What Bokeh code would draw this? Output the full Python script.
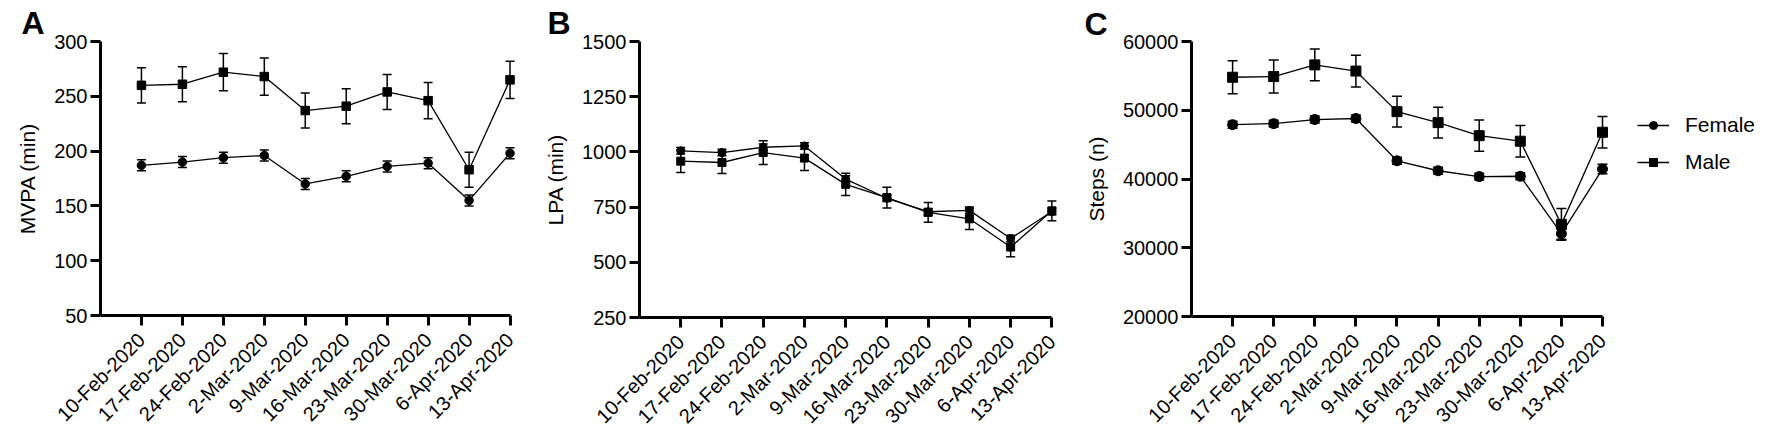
import math
from bokeh.plotting import figure
from bokeh.layouts import row
from bokeh.models import (Range1d, FixedTicker, Whisker, TeeHead, ColumnDataSource,
                          Legend, LegendItem, NumeralTickFormatter)
from bokeh.embed import file_html
from bokeh.resources import INLINE

FONT = "Liberation Sans"

dates = ["10-Feb-2020", "17-Feb-2020", "24-Feb-2020", "2-Mar-2020", "9-Mar-2020",
         "16-Mar-2020", "23-Mar-2020", "30-Mar-2020", "6-Apr-2020", "13-Apr-2020"]

mvpa_female = [187, 190, 194, 196, 170, 177, 186, 189, 155, 198]
mvpa_female_err = [5, 5, 5, 5, 5, 5, 5, 5, 5, 5]
mvpa_male = [260, 261, 272, 268, 237, 241, 254, 246, 183, 265]
mvpa_male_err = [16, 16, 17, 17, 16, 16, 16, 16.5, 16, 17]

lpa_female = [1005, 997, 1021, 1027, 877, 790, 729, 735, 608, 730]
lpa_female_err = [15, 15, 15, 15, 15, 15, 15, 15, 15, 15]
lpa_male = [958, 952, 997, 972, 853, 793, 726, 697, 569, 733]
lpa_male_err = [51, 50, 54, 56, 50, 47, 45, 48, 44, 45]

steps_female = [47900, 48050, 48650, 48800, 42650, 41200, 40350, 40400, 32050, 41450]
steps_female_err = [500, 500, 500, 500, 500, 500, 500, 500, 800, 700]
steps_male = [54800, 54900, 56600, 55700, 49800, 48200, 46300, 45500, 33400, 46800]
steps_male_err = [2400, 2400, 2300, 2300, 2230, 2250, 2280, 2300, 2300, 2300]

y_ticks_a = [50, 100, 150, 200, 250, 300]
y_ticks_b = [250, 500, 750, 1000, 1250, 1500]
y_ticks_c = [20000, 30000, 40000, 50000, 60000]


def make_panel(letter, ylabel, yticks, female, female_err, male, male_err,
               top, unit, x_end, frame_h, left, right, msize, head,
               letter_offset, letter_standoff):
    n = len(dates)
    xs = list(range(1, n + 1))
    p = figure(frame_width=int(round(unit * x_end)), frame_height=frame_h,
               min_border_left=left, min_border_right=right,
               min_border_top=top, min_border_bottom=100,
               x_range=Range1d(0, x_end), y_range=Range1d(yticks[0], yticks[-1]),
               output_backend="svg", toolbar_location=None)
    p.outline_line_color = None
    p.xgrid.visible = False
    p.ygrid.visible = False
    p.background_fill_color = "white"

    p.title.text = letter
    p.title.align = "left"
    p.title.offset = letter_offset
    p.title.standoff = letter_standoff
    p.title.vertical_align = "bottom"
    p.title.text_font = FONT
    p.title.text_font_size = "32px"
    p.title.text_font_style = "bold"
    p.title.text_color = "black"

    for ax in (p.xaxis[0], p.yaxis[0]):
        ax.axis_line_width = 3
        ax.axis_line_color = "black"
        ax.major_tick_line_width = 3
        ax.major_tick_line_color = "black"
        ax.major_tick_out = 10
        ax.major_tick_in = 0
        ax.minor_tick_line_color = None
        ax.major_label_text_font = FONT
        ax.major_label_text_font_size = "20px"
        ax.major_label_text_color = "black"
        ax.axis_label_text_font = FONT
        ax.axis_label_text_font_size = "21px"
        ax.axis_label_text_font_style = "normal"
        ax.axis_label_text_color = "black"

    p.xaxis.ticker = FixedTicker(ticks=xs)
    p.xaxis.bounds = (0, n)
    p.xaxis.major_label_overrides = {x: d for x, d in zip(xs, dates)}
    p.xaxis.major_label_orientation = math.pi / 4
    p.xaxis.major_label_standoff = 11
    p.yaxis.ticker = FixedTicker(ticks=yticks)
    p.yaxis.formatter = NumeralTickFormatter(format="0")
    p.yaxis.axis_label = ylabel
    p.yaxis.axis_label_standoff = 12
    p.yaxis.major_label_standoff = 3

    src = ColumnDataSource(dict(
        x=xs, f=female, m=male,
        fl=[v - e for v, e in zip(female, female_err)],
        fu=[v + e for v, e in zip(female, female_err)],
        ml=[v - e for v, e in zip(male, male_err)],
        mu=[v + e for v, e in zip(male, male_err)],
    ))

    for lo, hi in (("ml", "mu"), ("fl", "fu")):
        w = Whisker(base="x", lower=lo, upper=hi, source=src,
                    line_color="black", line_width=1.5, level="underlay",
                    upper_head=TeeHead(size=head, line_color="black", line_width=1.5),
                    lower_head=TeeHead(size=head, line_color="black", line_width=1.5))
        p.add_layout(w)

    lm = p.line("x", "m", source=src, line_color="black", line_width=1.3)
    sm = p.scatter("x", "m", source=src, marker="square", size=msize, color="black")
    lf = p.line("x", "f", source=src, line_color="black", line_width=1.3)
    sf = p.scatter("x", "f", source=src, marker="circle", size=msize, color="black")
    return p, (lf, sf), (lm, sm)


pa, _, _ = make_panel("A", "MVPA (min)", y_ticks_a, mvpa_female, mvpa_female_err,
                      mvpa_male, mvpa_male_err, top=41, unit=41.0, x_end=10.5,
                      frame_h=274, left=100, right=11, msize=8.5, head=9,
                      letter_offset=-79, letter_standoff=1)
pb, _, _ = make_panel("B", "LPA (min)", y_ticks_b, lpa_female, lpa_female_err,
                      lpa_male, lpa_male_err, top=40, unit=41.2, x_end=10.5,
                      frame_h=276, left=98, right=9, msize=8, head=9,
                      letter_offset=-92, letter_standoff=1)
pc, fr, mr = make_panel("C", "Steps (n)", y_ticks_c, steps_female, steps_female_err,
                        steps_male, steps_male_err, top=36, unit=41.1, x_end=13.82,
                        frame_h=275, left=109, right=0, msize=10, head=10,
                        letter_offset=-107, letter_standoff=0)

legend = Legend(items=[LegendItem(label="Female", renderers=list(fr)),
                       LegendItem(label="Male", renderers=list(mr))],
                location=(446, 142), border_line_color=None, background_fill_alpha=0,
                padding=0, margin=0, glyph_width=32, glyph_height=20,
                label_standoff=16, spacing=13, label_text_font=FONT,
                label_text_font_size="21px", label_text_color="black")
pc.add_layout(legend)

layout = row(pa, pb, pc)
open("out.html", "w").write(file_html(layout, INLINE))
